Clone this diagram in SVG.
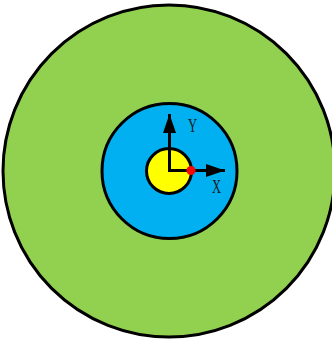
<svg xmlns="http://www.w3.org/2000/svg" width="332" height="345" viewBox="0 0 332 345">
<style>
.ring{stroke:#000;stroke-width:3}
.axis{stroke:#000;stroke-width:3;fill:none}
.lbl{font-family:"Liberation Serif",serif;font-size:19.5px;fill:#1a1a1a}
</style>
<defs>
<marker id="ah" viewBox="0 0 19 13" refX="19" refY="6.5" markerWidth="19" markerHeight="13" markerUnits="userSpaceOnUse" orient="auto">
<path d="M0,0 L19,6.5 L0,13 z" fill="#000"/>
</marker>
</defs>
<g id="outer"><circle class="ring" cx="169" cy="171" r="166" fill="#92D050"/></g>
<g id="middle"><circle class="ring" cx="169.5" cy="171" r="67.5" fill="#00B0F0"/></g>
<g id="inner"><circle class="ring" cx="169" cy="171" r="22.5" fill="#FFFF00"/></g>
<g id="connectors">
<path class="axis" d="M169.5,172 L169.5,114" marker-end="url(#ah)"/>
<path class="axis" d="M168,170.5 L225,170.5" marker-end="url(#ah)"/>
</g>
<g id="point"><circle cx="191" cy="170.5" r="4.5" fill="#FF0000"/></g>
<g id="labelY"><text class="lbl" transform="translate(192.5,132) scale(0.65,1)" text-anchor="middle">Y</text></g>
<g id="labelX"><text class="lbl" transform="translate(216.5,193) scale(0.65,1)" text-anchor="middle">X</text></g>
</svg>
